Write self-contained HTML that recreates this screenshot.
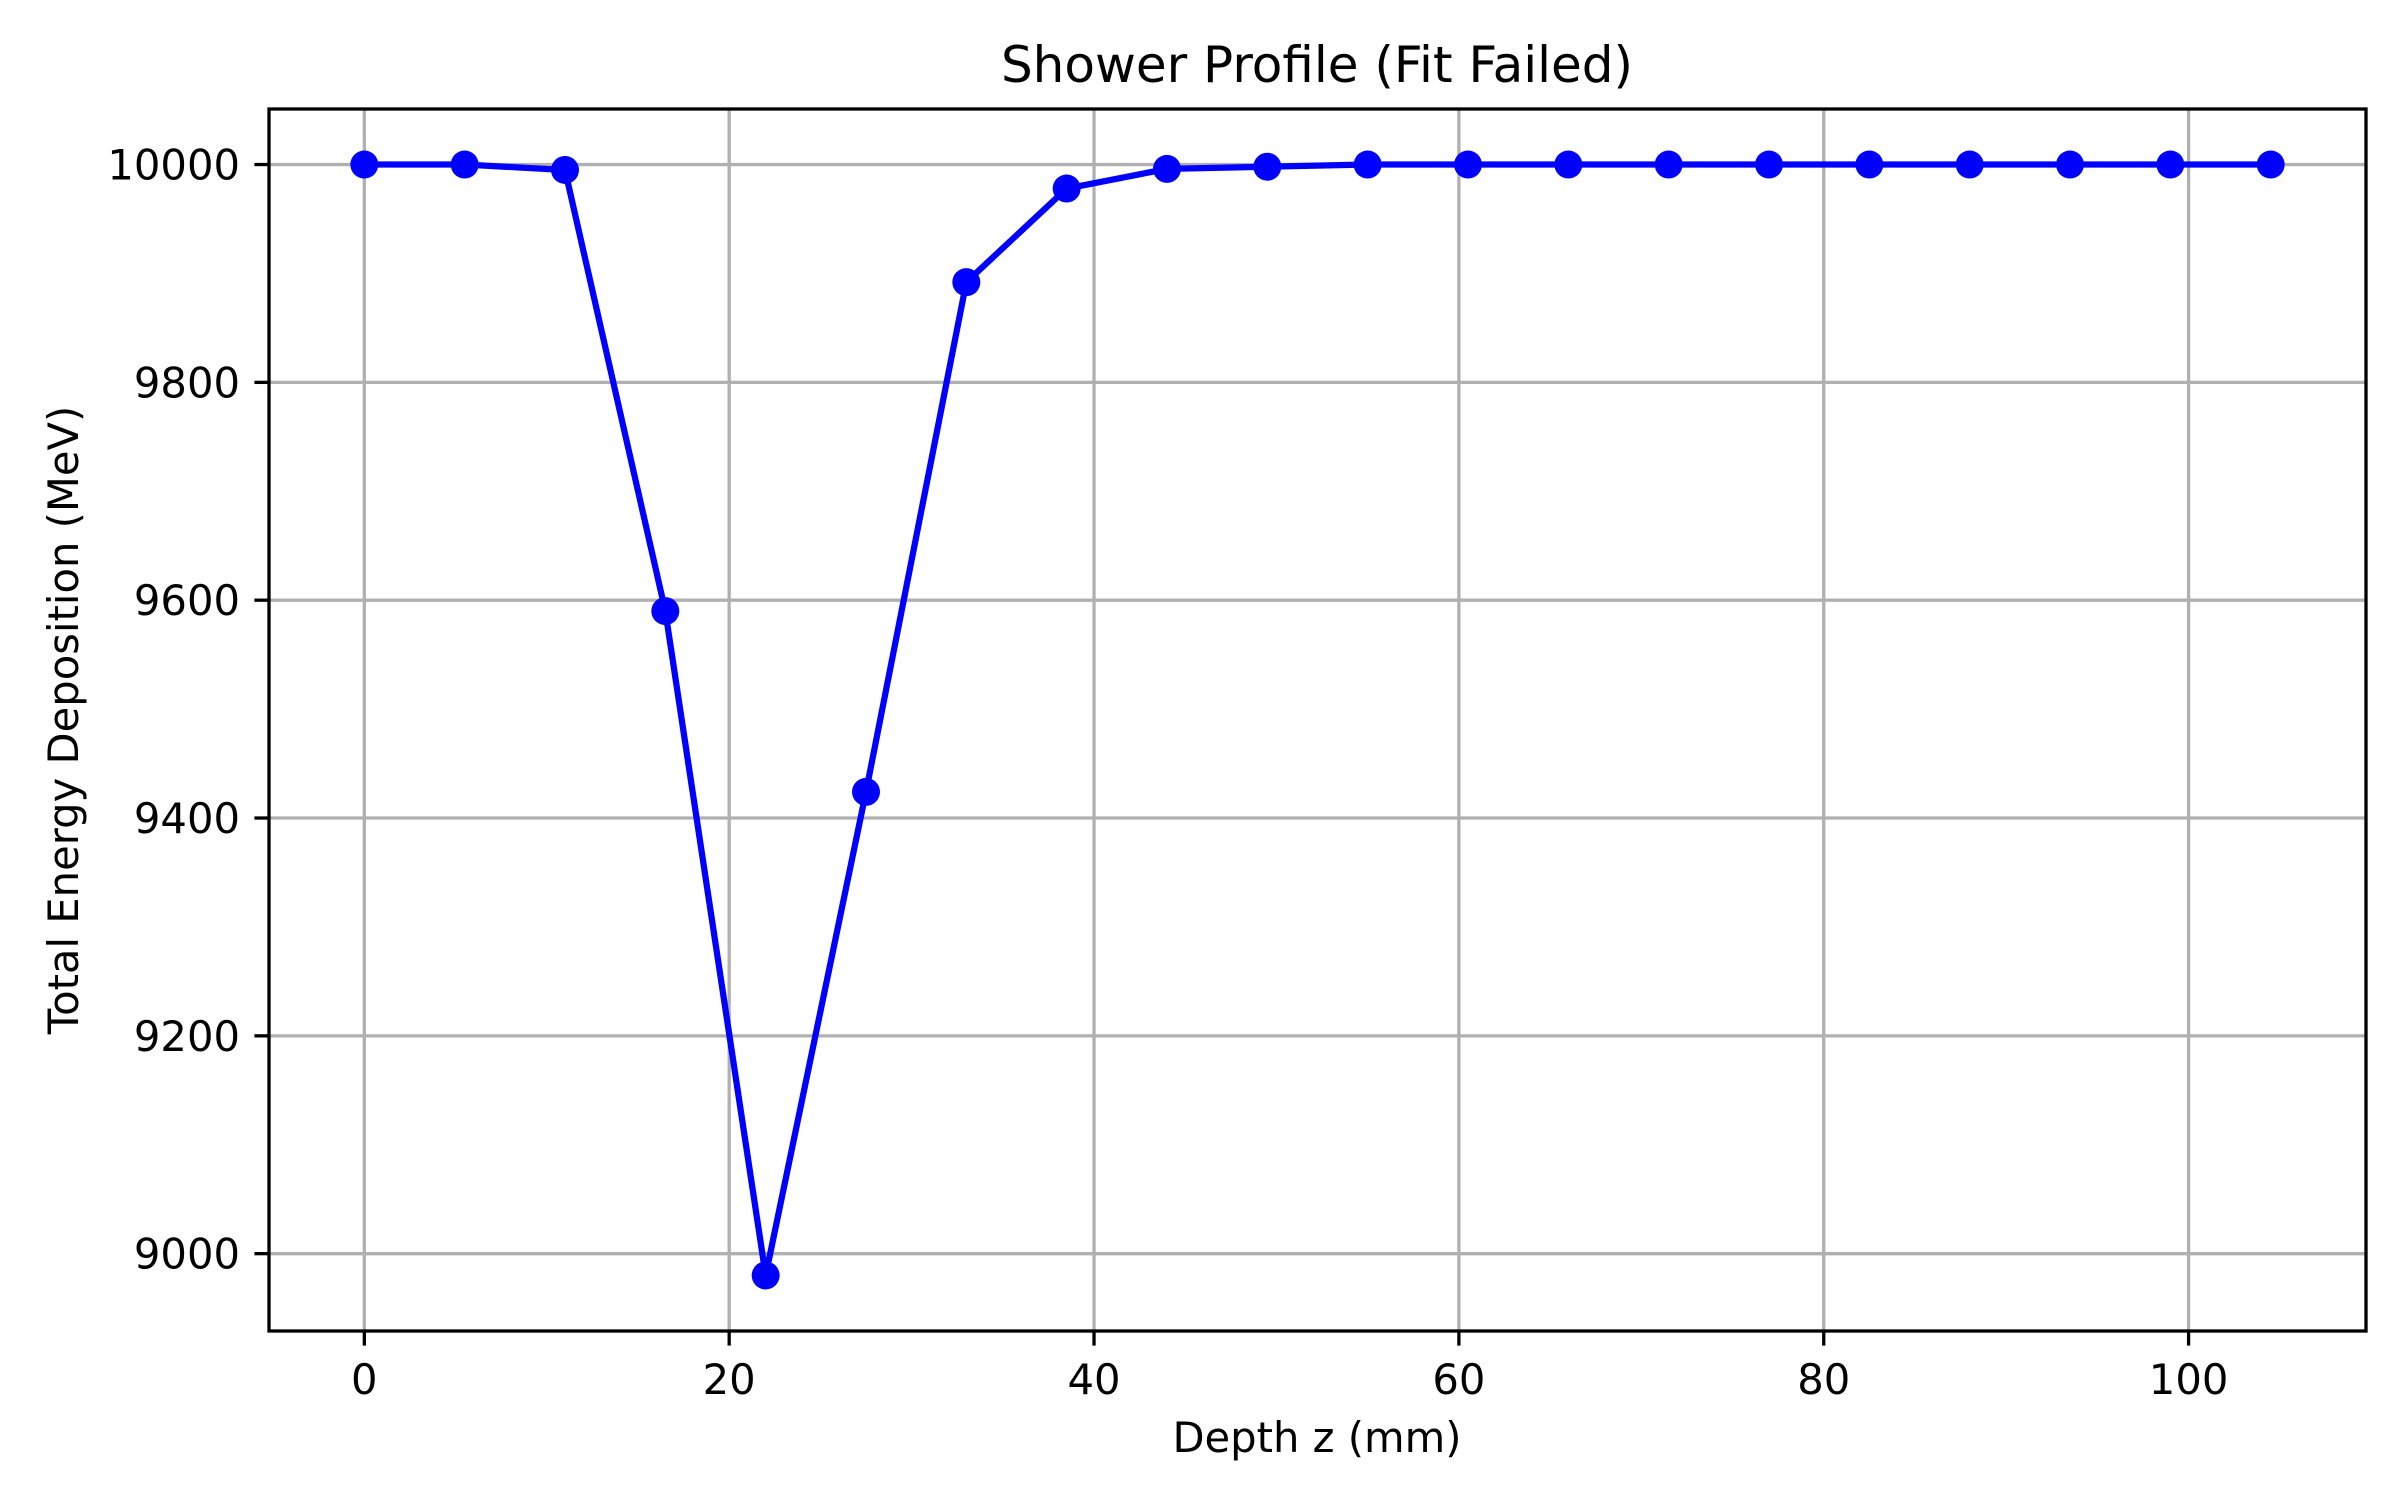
<!DOCTYPE html>
<html><head><meta charset="utf-8"><style>
html,body{margin:0;padding:0;background:#fff;}
svg{display:block;font-family:"DejaVu Sans","Liberation Sans",sans-serif;}
</style></head><body>
<svg id="chart" width="2400" height="1500" viewBox="0 0 2400 1500">
<g id="grid"></g>
<g id="series"></g>
<rect x="269" y="109" width="2097" height="1222" fill="none" stroke="#000" stroke-width="3.3"/>
<g id="ticks"></g>
<text x="1317" y="82" text-anchor="middle" font-size="50">Shower Profile (Fit Failed)</text>
<text x="1317" y="1452" text-anchor="middle" font-size="41.7">Depth z (mm)</text>
<text x="0" y="0" transform="translate(78,720) rotate(-90)" text-anchor="middle" font-size="41.7">Total Energy Deposition (MeV)</text>
</svg>
<script>
const depths = [0,5.5,11,16.5,22,27.5,33,38.5,44,49.5,55,60.5,66,71.5,77,82.5,88,93.5,99,104.5];
const energies = [10000,10000,9995,9590,8980,9424,9892,9978,9996,9998,10000,10000,10000,10000,10000,10000,10000,10000,10000,10000];
const xTicks = [0,20,40,60,80,100];
const yTicks = [9000,9200,9400,9600,9800,10000];

const NS='http://www.w3.org/2000/svg';
const L=269,R=2366,T=109,B=1331;
const xmin0=Math.min(...depths),xmax0=Math.max(...depths);
const ymin0=Math.min(...energies),ymax0=Math.max(...energies);
const xm=(xmax0-xmin0)*0.05, ym=(ymax0-ymin0)*0.05||1;
const xmin=xmin0-xm,xmax=xmax0+xm,ymin=ymin0-ym,ymax=ymax0+ym;
function sx(v){return L+(v-xmin)/(xmax-xmin)*(R-L);}
function sy(v){return B-(v-ymin)/(ymax-ymin)*(B-T);}
function mk(tag,attrs,parent){const e=document.createElementNS(NS,tag);for(const k in attrs)e.setAttribute(k,attrs[k]);parent.appendChild(e);return e;}
const grid=document.getElementById('grid'),ticks=document.getElementById('ticks'),series=document.getElementById('series');
xTicks.forEach(t=>{
  const x=sx(t);
  const g=mk('line',{x1:x,x2:x,y1:T,y2:B,stroke:'#b0b0b0','stroke-width':3.3},grid);
  
  
  const tk=mk('line',{x1:x,x2:x,y1:B,y2:B+14.6,stroke:'#000','stroke-width':3.3},ticks);
  
  
  const lb=mk('text',{x:x,y:1394,'text-anchor':'middle','font-size':41.7},ticks);
  lb.textContent=t;
  
  
});
yTicks.forEach(t=>{
  const y=sy(t);
  const g=mk('line',{x1:L,x2:R,y1:y,y2:y,stroke:'#b0b0b0','stroke-width':3.3},grid);
  
  
  const tk=mk('line',{x1:L-14.6,x2:L,y1:y,y2:y,stroke:'#000','stroke-width':3.3},ticks);
  
  
  const lb=mk('text',{x:240,y:y+15,'text-anchor':'end','font-size':41.7},ticks);
  lb.textContent=t;
  
  
});
const pts=depths.map((d,i)=>sx(d)+','+sy(energies[i])).join(' ');
const line=mk('polyline',{points:pts,fill:'none',stroke:'#0000ff','stroke-width':6.25,'stroke-linejoin':'round'},series);


depths.forEach((d,i)=>{
  const c=mk('circle',{cx:sx(d),cy:sy(energies[i]),r:14,fill:'#0000ff'},series);
  
  
});
</script>
</body></html>
